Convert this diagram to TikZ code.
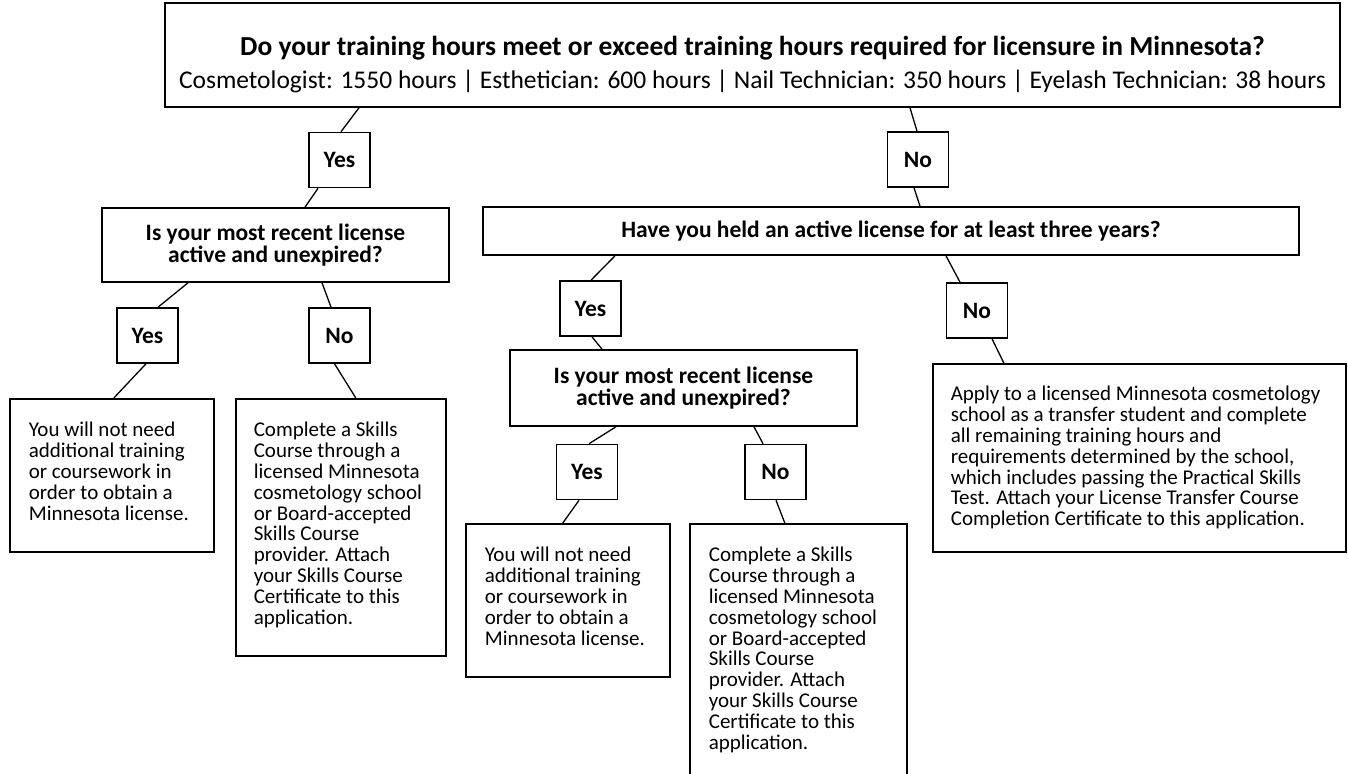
\documentclass[tikz,border=0pt]{standalone}
\usepackage{fontspec}
\setmainfont{Carlito}
\newcommand\bodysize{\fontsize{21}{20.8}\selectfont}
\newcommand\headsize{\fontsize{23.5}{21.7}\selectfont\bfseries}
\tikzset{
  box/.style={draw, line width=1.6pt, inner sep=0pt},
  choice/.style={box, font=\headsize, minimum width=61pt, minimum height=55pt},
  question/.style={box, font=\headsize, align=center},
  leaf/.style={box, inner xsep=19pt, inner ysep=0pt, anchor=north west, font=\bodysize},
  link/.style={line width=1.3pt},
}
\begin{document}
\begin{tikzpicture}[x=1pt, y=-1pt]
    \useasboundingbox (0,0) rectangle (1348,773);

    % Top question
    \node[box, minimum width=1175pt, minimum height=104pt] (top) at (752.5,55) {};
    \node[font=\fontsize{27.5}{30}\selectfont\bfseries, anchor=base] (title) at (752.5,55.5) {Do your training hours meet or exceed training hours required for licensure in Minnesota?};
    \node[font=\fontsize{25.5}{28}\selectfont, anchor=base] (hours) at (752.5,88.5) {Cosmetologist: 1550 hours | Esthetician: 600 hours | Nail Technician: 350 hours | Eyelash Technician: 38 hours};

    \node[choice] (yes1) at (339.5,160) {Yes};
    \node[choice] (no1) at (918,159.5) {No};

    % Left branch
    \node[question, minimum width=347pt, minimum height=74pt] (q1) at (275.5,245) {Is your most recent license\\active and unexpired?};
    \node[choice] (q1yes) at (147.5,335.5) {Yes};
    \node[choice] (q1no) at (339.5,335.5) {No};

    \node[leaf] (leaf1) at (9,398) {
        \parbox[c][153pt][t]{166pt}{\raggedright\rule{0pt}{38pt}%
            You will not need\\
            additional training\\
            or coursework in\\
            order to obtain a\\
            Minnesota license.}
    };
    \node[leaf, inner xsep=18pt] (leaf2) at (235,398) {
        \parbox[c][257pt][t]{174pt}{\raggedright\rule{0pt}{38pt}%
            Complete a Skills\\
            Course through a\\
            licensed Minnesota\\
            cosmetology school\\
            or Board-accepted\\
            Skills Course\\
            provider. Attach\\
            your Skills Course\\
            Certificate to this\\
            application.}
    };

    % Right branch
    \node[question, minimum width=816pt, minimum height=48pt] (q2) at (891,231) {Have you held an active license for at least three years?};
    \node[choice] (q2yes) at (590.5,308.5) {Yes};
    \node[choice] (q2no) at (977,310.5) {No};

    \node[question, minimum width=347pt, minimum height=76pt] (q3) at (683.5,388) {Is your most recent license\\active and unexpired?};
    \node[choice] (q3yes) at (587,472) {Yes};
    \node[choice] (q3no) at (775.5,472) {No};

    \node[leaf] (leaf3) at (465,523) {
        \parbox[c][153pt][t]{166pt}{\raggedright\rule{0pt}{38pt}%
            You will not need\\
            additional training\\
            or coursework in\\
            order to obtain a\\
            Minnesota license.}
    };
    \node[leaf] (leaf4) at (689,523) {
        \parbox[c][262pt][t]{179pt}{\raggedright\rule{0pt}{38pt}%
            Complete a Skills\\
            Course through a\\
            licensed Minnesota\\
            cosmetology school\\
            or Board-accepted\\
            Skills Course\\
            provider. Attach\\
            your Skills Course\\
            Certificate to this\\
            application.}
    };
    \node[leaf, inner xsep=18pt] (leaf5) at (932,363) {
        \parbox[c][188pt][t]{377pt}{\raggedright\rule{0pt}{37pt}%
            Apply to a licensed Minnesota cosmetology\\
            school as a transfer student and complete\\
            all remaining training hours and\\
            requirements determined by the school,\\
            which includes passing the Practical Skills\\
            Test. Attach your License Transfer Course\\
            Completion Certificate to this application.}
    };

    % Connectors
    \draw[link] ([xshift=-393.5pt]top.south) -- ([xshift=1.5pt]yes1.north);
    \draw[link] ([xshift=157.5pt]top.south) -- ([xshift=-1pt]no1.north);
    \draw[link] ([xshift=-21.5pt]yes1.south) -- ([xshift=29.5pt]q1.north);
    \draw[link] ([xshift=-4pt]no1.south) -- ([xshift=29pt]q2.north);
    \draw[link] ([xshift=-87.5pt]q1.south) -- ([xshift=10.5pt]q1yes.north);
    \draw[link] ([xshift=46.5pt]q1.south) -- ([xshift=-8.5pt]q1no.north);
    \draw[link] ([xshift=-1.5pt]q1yes.south) -- ([xshift=2pt]leaf1.north);
    \draw[link] ([xshift=-5pt]q1no.south) -- ([xshift=15pt]leaf2.north);
    \draw[link] ([xshift=-276pt]q2.south) -- ([xshift=0.5pt]q2yes.north);
    \draw[link] ([xshift=55pt]q2.south) -- ([xshift=-17pt]q2no.north);
    \draw[link] ([xshift=1.5pt]q2yes.south) -- ([xshift=-81.5pt]q3.north);
    \draw[link] ([xshift=15pt]q2no.south) -- ([xshift=-135.5pt]leaf5.north);
    \draw[link] ([xshift=-67.5pt]q3.south) -- ([xshift=2pt]q3yes.north);
    \draw[link] ([xshift=70.5pt]q3.south) -- ([xshift=-12.5pt]q3no.north);
    \draw[link] ([xshift=-8pt]q3yes.south) -- ([xshift=-5pt]leaf3.north);
    \draw[link] ([xshift=0.5pt]q3no.south) -- ([xshift=-13.5pt]leaf4.north);
\end{tikzpicture}
\end{document}
